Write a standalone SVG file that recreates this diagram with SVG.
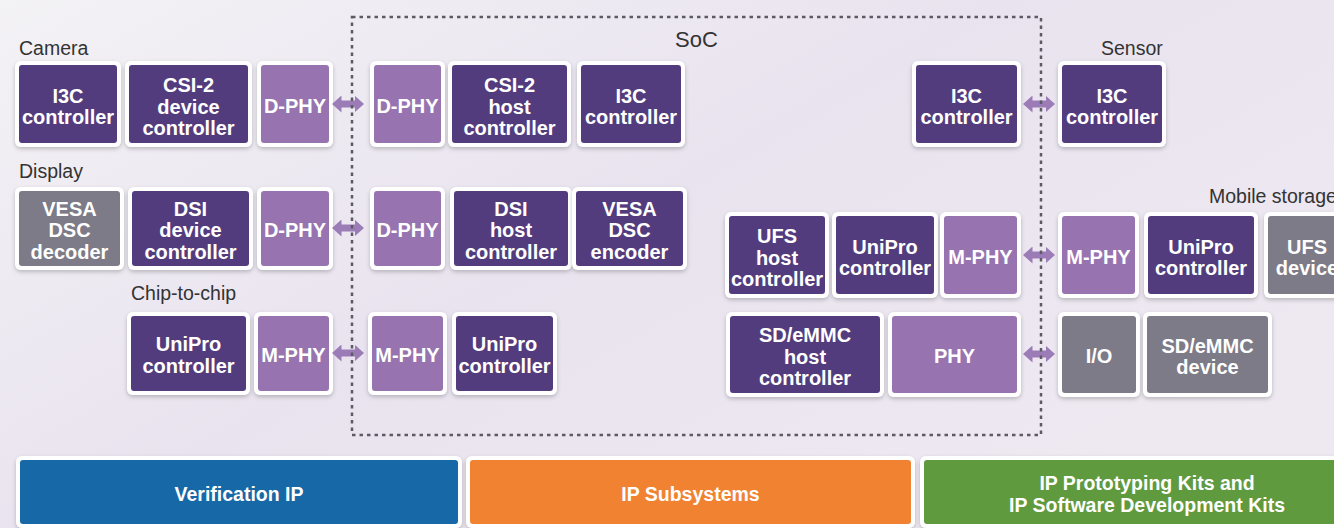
<svg xmlns="http://www.w3.org/2000/svg" width="1334" height="528" viewBox="0 0 1334 528">
<defs>
<linearGradient id="bg" x1="0" y1="0" x2="1" y2="0.7">
<stop offset="0" stop-color="#f3f2f5"/>
<stop offset="0.5" stop-color="#e9e3ef"/>
<stop offset="1" stop-color="#eee9f1"/>
</linearGradient>
<filter id="sh" x="-10%" y="-10%" width="120%" height="125%">
<feDropShadow dx="0" dy="2" stdDeviation="2" flood-color="#000" flood-opacity="0.22"/>
</filter>
<marker id="ah" markerUnits="userSpaceOnUse" markerWidth="10" markerHeight="17" refX="0.5" refY="8.5" orient="auto-start-reverse">
<path d="M0,0 L9.5,8.5 L0,17 z" fill="#9c7cb6"/>
</marker>
</defs>
<style>
.fr{fill:#fff;filter:url(#sh)}
.dk{fill:#533c7d}
.lt{fill:#9774af}
.gy{fill:#7c7b87}
.bl{fill:#1668a6}
.or{fill:#f08231}
.gr{fill:#5f9a3f}
.t{font-family:"Liberation Sans",Arial,sans-serif;font-weight:bold;font-size:20px;fill:#fff;text-anchor:middle}
.bt{font-family:"Liberation Sans",Arial,sans-serif;font-weight:bold;font-size:19.5px;fill:#fff;text-anchor:middle}
.lb{font-family:"Liberation Sans",Arial,sans-serif;font-size:19.5px;fill:#333}
.arr{stroke:#9c7cb6;stroke-width:7;fill:none;marker-start:url(#ah);marker-end:url(#ah)}
.soc{fill:none;stroke:#5d5a66;stroke-width:2.5;stroke-dasharray:3.5 4}
</style>
<rect x="0" y="0" width="1334" height="528" fill="url(#bg)"/>

<g id="labels">
<text class="lb" x="19" y="55">Camera</text>
<text class="lb" x="19" y="178">Display</text>
<text class="lb" x="131" y="300">Chip-to-chip</text>
<text class="lb" x="675" y="47" style="font-size:22px">SoC</text>
<text class="lb" x="1101" y="55">Sensor</text>
<text class="lb" x="1209" y="203">Mobile storage</text>
</g>

<!-- Camera row -->
<g id="cam-i3c"><rect class="fr" x="15" y="61" width="106" height="86" rx="6"/><rect class="dk" x="19" y="65" width="98" height="78" rx="3"/><text class="t" x="68"><tspan x="68" y="102.5">I3C</tspan><tspan x="68" y="124">controller</tspan></text></g>
<g id="cam-csi2"><rect class="fr" x="125" y="61" width="127" height="86" rx="6"/><rect class="dk" x="129" y="65" width="119" height="78" rx="3"/><text class="t"><tspan x="188.5" y="92">CSI-2</tspan><tspan x="188.5" y="113.5">device</tspan><tspan x="188.5" y="135">controller</tspan></text></g>
<g id="cam-dphy"><rect class="fr" x="257" y="61" width="76" height="86" rx="6"/><rect class="lt" x="261" y="65" width="68" height="78" rx="3"/><text class="t" x="295" y="113">D-PHY</text></g>
<g id="soc-dphy-cam"><rect class="fr" x="370" y="61" width="75" height="86" rx="6"/><rect class="lt" x="374" y="65" width="67" height="78" rx="3"/><text class="t" x="407.5" y="113">D-PHY</text></g>
<g id="soc-csi2"><rect class="fr" x="448" y="61" width="123" height="86" rx="6"/><rect class="dk" x="452" y="65" width="115" height="78" rx="3"/><text class="t"><tspan x="509.5" y="92">CSI-2</tspan><tspan x="509.5" y="113.5">host</tspan><tspan x="509.5" y="135">controller</tspan></text></g>
<g id="soc-i3c-cam"><rect class="fr" x="577" y="61" width="108" height="86" rx="6"/><rect class="dk" x="581" y="65" width="100" height="78" rx="3"/><text class="t"><tspan x="631" y="102.5">I3C</tspan><tspan x="631" y="124">controller</tspan></text></g>
<g id="soc-i3c-sensor"><rect class="fr" x="912" y="61" width="109" height="86" rx="6"/><rect class="dk" x="916" y="65" width="101" height="78" rx="3"/><text class="t"><tspan x="966.5" y="102.5">I3C</tspan><tspan x="966.5" y="124">controller</tspan></text></g>
<g id="sensor-i3c"><rect class="fr" x="1058" y="61" width="108" height="86" rx="6"/><rect class="dk" x="1062" y="65" width="100" height="78" rx="3"/><text class="t"><tspan x="1112" y="102.5">I3C</tspan><tspan x="1112" y="124">controller</tspan></text></g>

<!-- Display row -->
<g id="disp-vesa"><rect class="fr" x="15" y="187" width="109" height="83" rx="6"/><rect class="gy" x="19" y="191" width="101" height="75" rx="3"/><text class="t"><tspan x="69.5" y="215.5">VESA</tspan><tspan x="69.5" y="237">DSC</tspan><tspan x="69.5" y="258.5">decoder</tspan></text></g>
<g id="disp-dsi"><rect class="fr" x="128" y="187" width="125" height="83" rx="6"/><rect class="dk" x="132" y="191" width="117" height="75" rx="3"/><text class="t"><tspan x="190.5" y="215.5">DSI</tspan><tspan x="190.5" y="237">device</tspan><tspan x="190.5" y="258.5">controller</tspan></text></g>
<g id="disp-dphy"><rect class="fr" x="257" y="187" width="76" height="83" rx="6"/><rect class="lt" x="261" y="191" width="68" height="75" rx="3"/><text class="t" x="295" y="237">D-PHY</text></g>
<g id="soc-dphy-disp"><rect class="fr" x="370" y="187" width="75" height="83" rx="6"/><rect class="lt" x="374" y="191" width="67" height="75" rx="3"/><text class="t" x="407.5" y="237">D-PHY</text></g>
<g id="soc-dsi"><rect class="fr" x="450" y="187" width="122" height="83" rx="6"/><rect class="dk" x="454" y="191" width="114" height="75" rx="3"/><text class="t"><tspan x="511" y="215.5">DSI</tspan><tspan x="511" y="237">host</tspan><tspan x="511" y="258.5">controller</tspan></text></g>
<g id="soc-vesa"><rect class="fr" x="572" y="187" width="115" height="83" rx="6"/><rect class="dk" x="576" y="191" width="107" height="75" rx="3"/><text class="t"><tspan x="629.5" y="215.5">VESA</tspan><tspan x="629.5" y="237">DSC</tspan><tspan x="629.5" y="258.5">encoder</tspan></text></g>

<!-- Chip-to-chip row -->
<g id="c2c-unipro"><rect class="fr" x="127" y="312" width="123" height="83" rx="6"/><rect class="dk" x="131" y="316" width="115" height="75" rx="3"/><text class="t"><tspan x="188.5" y="351">UniPro</tspan><tspan x="188.5" y="372.5">controller</tspan></text></g>
<g id="c2c-mphy"><rect class="fr" x="254" y="312" width="79" height="83" rx="6"/><rect class="lt" x="258" y="316" width="71" height="75" rx="3"/><text class="t" x="293.5" y="362">M-PHY</text></g>
<g id="soc-mphy-c2c"><rect class="fr" x="368" y="312" width="79" height="83" rx="6"/><rect class="lt" x="372" y="316" width="71" height="75" rx="3"/><text class="t" x="407.5" y="362">M-PHY</text></g>
<g id="soc-unipro-c2c"><rect class="fr" x="452" y="312" width="105" height="83" rx="6"/><rect class="dk" x="456" y="316" width="97" height="75" rx="3"/><text class="t"><tspan x="504.5" y="351">UniPro</tspan><tspan x="504.5" y="372.5">controller</tspan></text></g>

<!-- Mobile storage row -->
<g id="soc-ufs-host"><rect class="fr" x="725" y="212" width="104" height="86" rx="6"/><rect class="dk" x="729" y="216" width="96" height="78" rx="3"/><text class="t"><tspan x="777" y="243">UFS</tspan><tspan x="777" y="264.5">host</tspan><tspan x="777" y="286">controller</tspan></text></g>
<g id="soc-unipro-ufs"><rect class="fr" x="832" y="212" width="106" height="86" rx="6"/><rect class="dk" x="836" y="216" width="98" height="78" rx="3"/><text class="t"><tspan x="885" y="253.5">UniPro</tspan><tspan x="885" y="275">controller</tspan></text></g>
<g id="soc-mphy-ufs"><rect class="fr" x="940" y="212" width="81" height="86" rx="6"/><rect class="lt" x="944" y="216" width="73" height="78" rx="3"/><text class="t" x="980.5" y="264">M-PHY</text></g>
<g id="ms-mphy"><rect class="fr" x="1058" y="212" width="81" height="86" rx="6"/><rect class="lt" x="1062" y="216" width="73" height="78" rx="3"/><text class="t" x="1098.5" y="264">M-PHY</text></g>
<g id="ms-unipro"><rect class="fr" x="1144" y="212" width="114" height="86" rx="6"/><rect class="dk" x="1148" y="216" width="106" height="78" rx="3"/><text class="t"><tspan x="1201" y="253.5">UniPro</tspan><tspan x="1201" y="275">controller</tspan></text></g>
<g id="ms-ufs-device"><rect class="fr" x="1264" y="212" width="86" height="86" rx="6"/><rect class="gy" x="1268" y="216" width="78" height="78" rx="3"/><text class="t"><tspan x="1307" y="253.5">UFS</tspan><tspan x="1307" y="275">device</tspan></text></g>

<!-- SD row -->
<g id="soc-sd-host"><rect class="fr" x="726" y="312" width="158" height="85" rx="6"/><rect class="dk" x="730" y="316" width="150" height="77" rx="3"/><text class="t"><tspan x="805" y="342">SD/eMMC</tspan><tspan x="805" y="363.5">host</tspan><tspan x="805" y="385">controller</tspan></text></g>
<g id="soc-phy"><rect class="fr" x="888" y="312" width="133" height="85" rx="6"/><rect class="lt" x="892" y="316" width="125" height="77" rx="3"/><text class="t" x="954.5" y="363">PHY</text></g>
<g id="ms-io"><rect class="fr" x="1058" y="312" width="82" height="85" rx="6"/><rect class="gy" x="1062" y="316" width="74" height="77" rx="3"/><text class="t" x="1099" y="363">I/O</text></g>
<g id="ms-sd-device"><rect class="fr" x="1143" y="312" width="129" height="85" rx="6"/><rect class="gy" x="1147" y="316" width="121" height="77" rx="3"/><text class="t"><tspan x="1207.5" y="352.5">SD/eMMC</tspan><tspan x="1207.5" y="374">device</tspan></text></g>

<!-- Bottom bars -->
<g id="bar-vip"><rect class="fr" x="16" y="456" width="446" height="72" rx="6"/><rect class="bl" x="20" y="460" width="438" height="64" rx="3"/><text class="bt" x="239" y="501">Verification IP</text></g>
<g id="bar-subsystems"><rect class="fr" x="466" y="456" width="449" height="72" rx="6"/><rect class="or" x="470" y="460" width="441" height="64" rx="3"/><text class="bt" x="690.5" y="501">IP Subsystems</text></g>
<g id="bar-kits"><rect class="fr" x="920" y="456" width="455" height="72" rx="6"/><rect class="gr" x="924" y="460" width="447" height="64" rx="3"/><text class="bt"><tspan x="1147" y="490">IP Prototyping Kits and</tspan><tspan x="1147" y="512">IP Software Development Kits</tspan></text></g>

<g id="connectors">
<line class="arr" x1="341" y1="104" x2="355" y2="104"/>
<line class="arr" x1="341" y1="228" x2="355" y2="228"/>
<line class="arr" x1="341" y1="353" x2="355" y2="353"/>
<line class="arr" x1="1032" y1="104" x2="1046" y2="104"/>
<line class="arr" x1="1032" y1="255" x2="1046" y2="255"/>
<line class="arr" x1="1032" y1="354" x2="1046" y2="354"/>
</g>

<g id="soc-boundary">
<rect class="soc" x="352" y="17" width="689" height="418"/>
</g>
</svg>
